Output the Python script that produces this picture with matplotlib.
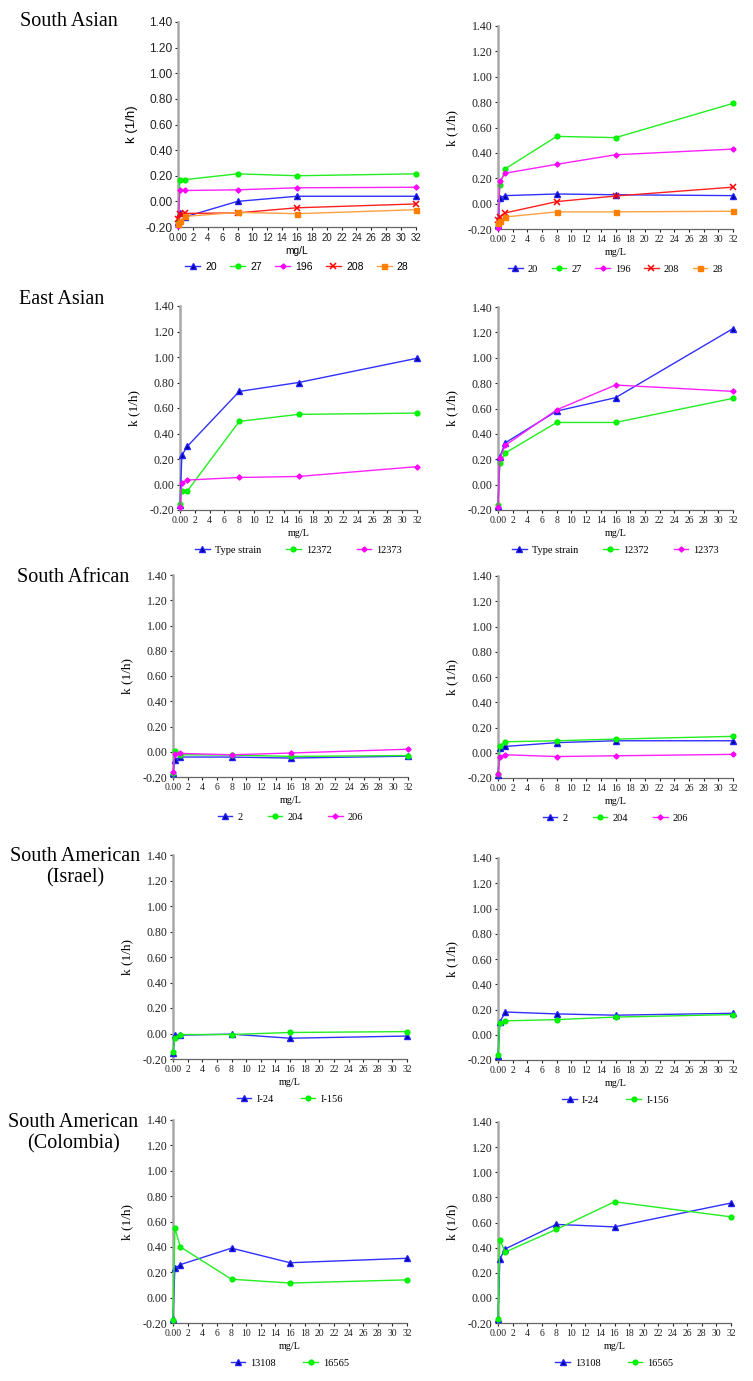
import matplotlib
matplotlib.use("Agg")
import matplotlib.pyplot as plt
import numpy as np

# concentration (mg/L)
conc = [0, 0.25, 1, 8, 16, 32]
xtick_vals = list(range(0, 33, 2))
xtick_labels = ["0.00"] + [str(v) for v in xtick_vals[1:]]
ytick_vals = [-0.2, 0.0, 0.2, 0.4, 0.6, 0.8, 1.0, 1.2, 1.4]

titles = ["South Asian", "East Asian", "South African",
          "South American\n(Israel)", "South American\n(Colombia)"]

# South Asian
sa_labels = ["20", "27", "196", "208", "28"]
sa_left = [[-0.16, -0.09, -0.12, 0.00, 0.04, 0.04],
           [-0.15, 0.165, 0.17, 0.215, 0.20, 0.215],
           [-0.19, 0.088, 0.085, 0.09, 0.106, 0.11],
           [-0.14, -0.10, -0.094, -0.09, -0.05, -0.02],
           [-0.18, -0.15, -0.117, -0.086, -0.096, -0.065]]
sa_right = [[-0.165, 0.045, 0.063, 0.076, 0.07, 0.063],
            [-0.17, 0.15, 0.275, 0.53, 0.52, 0.79],
            [-0.19, 0.175, 0.24, 0.31, 0.385, 0.43],
            [-0.13, -0.105, -0.073, 0.016, 0.06, 0.13],
            [-0.15, -0.14, -0.105, -0.065, -0.065, -0.06]]

# East Asian
ea_labels = ["Type strain", "12372", "12373"]
ea_left = [[-0.16, 0.23, 0.30, 0.73, 0.80, 0.99],
           [-0.155, -0.05, -0.05, 0.495, 0.55, 0.56],
           [-0.175, 0.01, 0.035, 0.055, 0.063, 0.14]]
ea_right = [[-0.17, 0.22, 0.33, 0.58, 0.685, 1.23],
            [-0.16, 0.17, 0.25, 0.49, 0.49, 0.68],
            [-0.175, 0.21, 0.31, 0.59, 0.785, 0.735]]

# South African
saf_labels = ["2", "204", "206"]
saf_left = [[-0.167, -0.063, -0.042, -0.042, -0.05, -0.035],
            [-0.17, 0.008, -0.024, -0.026, -0.037, -0.03],
            [-0.16, -0.02, -0.013, -0.024, -0.01, 0.02]]
saf_right = [[-0.175, 0.035, 0.05, 0.08, 0.095, 0.095],
             [-0.17, 0.055, 0.087, 0.095, 0.108, 0.13],
             [-0.17, -0.03, -0.016, -0.03, -0.024, -0.013]]

# South American (Israel)
isr_labels = ["I-24", "I-156"]
isr_left = [[-0.15, -0.013, -0.013, -0.005, -0.037, -0.02],
            [-0.145, -0.034, -0.008, -0.008, 0.008, 0.015]]
isr_right = [[-0.165, 0.10, 0.18, 0.165, 0.155, 0.17],
             [-0.16, 0.09, 0.11, 0.12, 0.14, 0.16]]

# South American (Colombia)
col_labels = ["13108", "16565"]
col_left = [[-0.165, 0.23, 0.26, 0.39, 0.275, 0.31],
            [-0.18, 0.55, 0.40, 0.145, 0.115, 0.14]]
col_right = [[-0.17, 0.31, 0.39, 0.585, 0.565, 0.755],
             [-0.17, 0.46, 0.365, 0.545, 0.765, 0.645]]

styles = [dict(color="#3030ff", marker="^", mfc="#000090", mec="#2020ff", ms=4),
          dict(color="#22ee22", marker="o", mfc="#00ff00", mec="#00ee00", ms=3.4),
          dict(color="#ff20ff", marker="D", mfc="#ff00ff", mec="#ff00ff", ms=2.6),
          dict(color="#ff2020", marker="x", mfc="#ff0000", mec="#ff0000", ms=4, mew=1.1),
          dict(color="#ffa040", marker="s", mfc="#ff8000", mec="#ff8000", ms=3.6)]

rows = [(sa_labels, sa_left, sa_right),
        (ea_labels, ea_left, ea_right),
        (saf_labels, saf_left, saf_right),
        (isr_labels, isr_left, isr_right),
        (col_labels, col_left, col_right)]

W, H = 753, 1381
# pixel boxes: (left, right, top, bottom)
left_boxes = [(178, 416, 22, 227), (180, 417, 306, 510), (173, 408, 575, 777),
              (173, 407, 855, 1059), (173, 407, 1120, 1323)]
right_boxes = [(498, 733, 26, 229), (498, 733, 307, 510), (498, 733, 576, 778),
               (498, 733, 858, 1060), (498, 731, 1122, 1323)]
title_pos = [(20, 22, "left"), (19, 300, "left"), (17, 577, "left"),
             (75, 867, "center"), (73, 1133, "center")]
col_space = {5: 1.3, 3: 2.4, 2: 2.6}

fig = plt.figure(figsize=(W / 100, H / 100), dpi=100)


def draw(box, labels, series, family):
    l, r, t, b = box
    ax = fig.add_axes([l / W, 1 - b / H, (r - l) / W, (b - t) / H])
    for lab, vals, st in zip(labels, series, styles):
        ax.plot(conc, vals, lw=1, label=lab, clip_on=False, zorder=3, **st)
    ax.set_xlim(0, 32)
    ax.set_ylim(-0.2, 1.4)
    ax.set_xticks(xtick_vals)
    ax.set_xticklabels(xtick_labels, fontsize=7, family=family)
    ax.set_yticks(ytick_vals)
    ax.set_yticklabels(["%.2f" % v for v in ytick_vals], fontsize=8.6, family=family)
    ax.tick_params(direction="out", length=2.5, width=0.8, pad=1.5, colors="#222222")
    for s in ["top", "right"]:
        ax.spines[s].set_visible(False)
    ax.spines["left"].set_color("#a8a8a8")
    ax.spines["left"].set_linewidth(1.8)
    ax.spines["bottom"].set_color("#666666")
    ax.spines["bottom"].set_linewidth(0.9)
    hpx = b - t
    ax.set_ylabel("k (1/h)", fontsize=9.5, family=family)
    ax.yaxis.set_label_coords(-40 / (r - l), 0.5)
    ax.set_xlabel("mg/L", fontsize=7.3, family=family)
    ax.xaxis.set_label_coords(0.5, -19 / hpx)
    ax.legend(loc="center", bbox_to_anchor=(0.5, -40 / hpx), ncol=len(labels),
              frameon=False, handlelength=1.4, handletextpad=0.5,
              columnspacing=col_space[len(labels)],
              prop=dict(family=family, size=7.5))
    return ax


for i, (labels, left, right) in enumerate(rows):
    fam_left = "Liberation Sans" if i == 0 else "Liberation Serif"
    draw(left_boxes[i], labels, left, fam_left)
    draw(right_boxes[i], labels, right, "Liberation Serif")
    x, y, ha = title_pos[i]
    fig.text(x / W, 1 - y / H, titles[i], ha=ha, va="center", fontsize=14.5,
             family="Liberation Serif", multialignment="center", linespacing=1.15)

plt.savefig("out.png", dpi=100)
